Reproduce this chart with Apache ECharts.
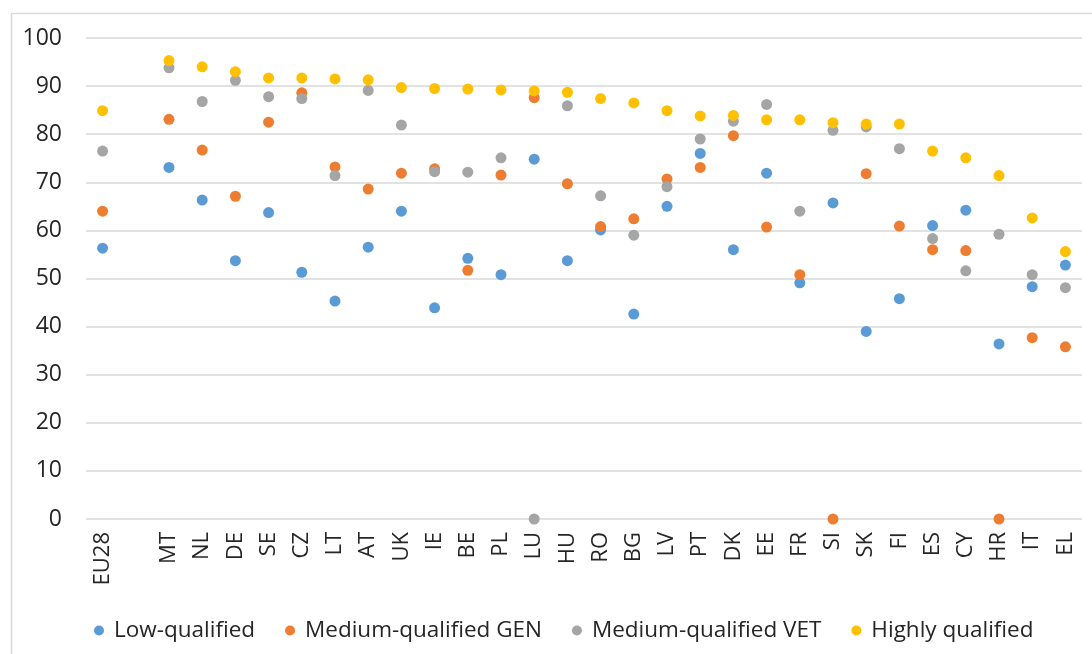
<!DOCTYPE html>
<html>
<head>
<meta charset="utf-8">
<script src="https://cdn.jsdelivr.net/npm/echarts@6/dist/echarts.min.js"></script>
<style>
    html, body { margin: 0; padding: 0; background: #fff; }
    #chart { width: 1092px; height: 654px; }
</style>
</head>
<body>
<div id="chart"></div>
<script>
// ---------------- DATA ----------------
const countries = ['EU28', '', 'MT', 'NL', 'DE', 'SE', 'CZ', 'LT', 'AT', 'UK', 'IE', 'BE', 'PL', 'LU', 'HU',
    'RO', 'BG', 'LV', 'PT', 'DK', 'EE', 'FR', 'SI', 'SK', 'FI', 'ES', 'CY', 'HR', 'IT', 'EL'];

const lowQualified = [56.3, null, 73.1, 66.3, 53.7, 63.7, 51.3, 45.3, 56.5, 64.0, 43.9, 54.2, 50.8, 74.8, 53.7,
    60.1, 42.6, 65.0, 76.0, 56.0, 71.9, 49.1, 65.7, 39.0, 45.8, 61.0, 64.2, 36.4, 48.3, 52.8];

const mediumGen = [64.0, null, 83.1, 76.7, 67.1, 82.5, 88.6, 73.2, 68.6, 71.9, 72.8, 51.7, 71.5, 87.6, 69.7,
    60.8, 62.4, 70.7, 73.1, 79.7, 60.7, 50.8, 0, 71.8, 60.9, 56.0, 55.8, 0, 37.7, 35.8];

const mediumVet = [76.5, null, 93.8, 86.8, 91.2, 87.8, 87.4, 71.4, 89.1, 81.9, 72.2, 72.1, 75.1, 0, 85.9,
    67.2, 59.0, 69.1, 79.0, 82.7, 86.2, 64.0, 80.8, 81.5, 77.0, 58.3, 51.6, 59.2, 50.8, 48.1];

const highlyQualified = [84.9, null, 95.3, 94.0, 93.0, 91.7, 91.7, 91.5, 91.3, 89.7, 89.5, 89.4, 89.2, 89.0, 88.7,
    87.4, 86.5, 84.9, 83.8, 83.9, 83.0, 83.0, 82.4, 82.1, 82.1, 76.5, 75.1, 71.4, 62.6, 55.6];

const yTicks = { min: 0, max: 100, interval: 10 };

// ---------------- CHART ----------------
const font = 'Open Sans';
const chart = echarts.init(document.getElementById('chart'));

function dots(name, data, color) {
    return {
        name: name,
        type: 'scatter',
        data: data,
        symbol: 'circle',
        symbolSize: 11,
        itemStyle: { color: color, opacity: 1 },
        emphasis: { disabled: true }
    };
}

chart.setOption({
    animation: false,
    backgroundColor: '#fff',
    graphic: [{
        type: 'rect',
        left: 9, top: 11,
        shape: { width: 1200, height: 800 },
        style: { fill: 'none', stroke: '#d9d9d9', lineWidth: 1.5 },
        silent: true
    }],
    grid: { left: 86, right: 10, top: 38, bottom: 135 },
    legend: {
        left: 89,
        top: 614,
        icon: 'circle',
        itemWidth: 20,
        itemHeight: 10,
        itemGap: 30,
        textStyle: { fontFamily: font, fontSize: 22.5, color: '#262626' },
        data: ['Low-qualified', 'Medium-qualified GEN', 'Medium-qualified VET', 'Highly qualified']
    },
    xAxis: {
        type: 'category',
        data: countries,
        axisLine: { show: false },
        axisTick: { show: false },
        axisLabel: {
            interval: 0,
            rotate: 90,
            margin: 13,
            fontFamily: font,
            fontSize: 22,
            color: '#262626'
        },
        splitLine: { show: false }
    },
    yAxis: {
        type: 'value',
        min: yTicks.min,
        max: yTicks.max,
        interval: yTicks.interval,
        axisLine: { show: false },
        axisTick: { show: false },
        axisLabel: { margin: 24, fontFamily: font, fontSize: 23, color: '#262626' },
        splitLine: { lineStyle: { color: '#d9d9d9', width: 1.5 } }
    },
    series: [
        dots('Low-qualified', lowQualified, '#5B9BD5'),
        dots('Medium-qualified GEN', mediumGen, '#ED7D31'),
        dots('Medium-qualified VET', mediumVet, '#A5A5A5'),
        dots('Highly qualified', highlyQualified, '#FFC000')
    ]
});
</script>
</body>
</html>
